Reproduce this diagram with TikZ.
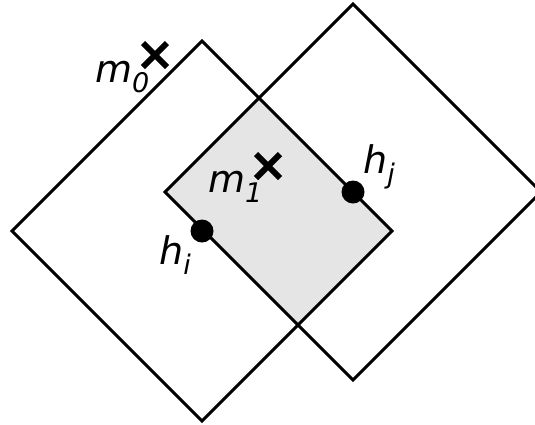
\documentclass[tikz,border=0pt]{standalone}
\usepackage{fontspec}
\setmainfont{DejaVu Sans}
% italic label with a lowered, smaller italic index
\newcommand\idxlabel[2]{{\fontsize{38}{42}\selectfont\itshape #1\raisebox{-10pt}{\fontsize{27}{30}\selectfont #2}}}
\begin{document}
\begin{tikzpicture}[x=1pt,y=-1pt,
  boxline/.style={line width=3pt, line join=miter},
  crossmark/.style={line width=6pt},
  lbl/.style={anchor=base west, inner sep=0pt},
  dotmark/.style={fill=black}]
\useasboundingbox (0,0) rectangle (535,424);

% centres of the two rotated squares
\coordinate (ci) at (202,231);
\coordinate (cj) at (353,192);

% overlap region
\begin{scope}
  \clip (202,41) -- (392,231) -- (202,421) -- (12,231) -- cycle;
  \fill[gray!20] (353,4) -- (541,192) -- (353,380) -- (165,192) -- cycle;
\end{scope}

% the two squares
\draw[boxline] (202,41) -- (392,231) -- (202,421) -- (12,231) -- cycle;
\draw[boxline] (353,4) -- (541,192) -- (353,380) -- (165,192) -- cycle;

% markers
\coordinate (m0c) at (155,55);
\coordinate (m1c) at (268,166);
\draw[crossmark] (m0c) +(-12,-12) -- +(12,12) +(-12,12) -- +(12,-12);
\draw[crossmark] (m1c) +(-12,-12) -- +(12,12) +(-12,12) -- +(12,-12);
\fill[dotmark] (ci) circle (11.5);
\fill[dotmark] (cj) circle (11.5);

% labels
\node[lbl] (m0) at (95,82) {\idxlabel{m}{0}};
\node[lbl] (m1) at (208,192) {\idxlabel{m}{1}};
\node[lbl] (hj) at (363,173) {\idxlabel{h}{j}};
\node[lbl] (hi) at (159,264) {\idxlabel{h}{i}};
\end{tikzpicture}
\end{document}
